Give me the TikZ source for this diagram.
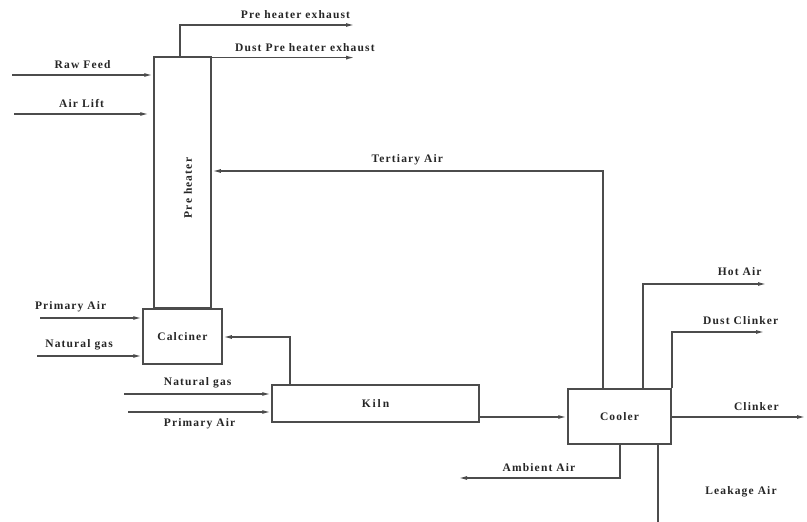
\documentclass[tikz,border=0pt]{standalone}
\usepackage{fontspec}
\setmainfont{Liberation Serif}[LetterSpace=10]
\usetikzlibrary{arrows.meta}

\begin{document}
\begin{tikzpicture}[
    x=1pt, y=-1pt,
    unit/.style={draw=black!70, line width=1.5pt, inner sep=0pt, font=\fontsize{11.5}{13}\selectfont\bfseries},
    arrow/.style={-{Latex[length=9pt,width=4pt]}, draw=black!70, line width=1.5pt},
    pipe/.style={draw=black!70, line width=1.5pt},
    every node/.style={font=\fontsize{11.5}{13}\selectfont\bfseries, text=black!85}
]
\useasboundingbox (0,0) rectangle (807,522);

% Units
\node[unit, minimum width=57pt, minimum height=251pt] (pre) at (182.5, 182.5) {};
\node[rotate=90] (prelabel) at (188, 188) {Pre heater};
\node[unit, minimum width=79pt, minimum height=55pt] (calc) at (182.5, 336.5) {Calciner};
\node[unit, minimum width=207pt, minimum height=37pt] (kiln) at (375.5, 403.5) {K\,i\,l\,n};
\node[unit, minimum width=103pt, minimum height=55pt] (cooler) at (619.5, 416.5) {Cooler};

% Free ends
\coordinate (rawfeed) at (12, 75);
\coordinate (airlift) at (14, 114);
\coordinate (exhaust) at (355, 25);
\coordinate (dustexh) at (355, 57.6);
\coordinate (cprimary) at (40, 318);
\coordinate (cgas) at (37, 356);
\coordinate (kgas) at (124, 394);
\coordinate (kprimary) at (128, 412);
\coordinate (hotair) at (767, 284);
\coordinate (dustclk) at (765, 332);
\coordinate (clinker) at (806, 417);
\coordinate (ambient) at (458, 478);
\coordinate (leakage) at (658, 522);

% Preheater streams
\draw[arrow] (rawfeed) -- (rawfeed -| pre.west) node[midway, above=2pt] {Raw Feed};
\draw[arrow] (airlift) -- ([xshift=-4pt]airlift -| pre.west) node[midway, above=2pt] {Air Lift};
\draw[arrow] ([xshift=-2.5pt]pre.north) |- (exhaust) node[pos=0.83, above=2pt] {Pre heater exhaust};
\draw[arrow] (dustexh -| pre.east) -- (dustexh) node[pos=0.65, above=2pt] {Dust Pre heater exhaust};

% Calciner streams
\draw[arrow] (cprimary) -- (cprimary -| calc.west) node[pos=0.3, above=2pt] {Primary Air};
\draw[arrow] (cgas) -- (cgas -| calc.west) node[pos=0.4, above=2pt] {Natural gas};

% Kiln streams
\draw[arrow] (kgas) -- (kgas -| kiln.west) node[midway, above=2pt] {Natural gas};
\draw[arrow] (kprimary) -- (kprimary -| kiln.west) node[midway, below=2pt] {Primary Air};
\draw[arrow] ([xshift=-85.5pt]kiln.north) |- ([yshift=-0.5pt]calc.east);
\draw[arrow] (clinker -| kiln.east) -- (clinker -| cooler.west);

% Cooler streams
\draw[arrow] ([xshift=-16.5pt]cooler.north) |- ([yshift=11.5pt]pre.east) node[pos=0.75, above=2pt] {Tertiary Air};
\draw[arrow] ([xshift=23.5pt]cooler.north) |- (hotair) node[pos=0.89, above=4pt] {Hot Air};
\draw[arrow] (cooler.north east) |- (dustclk) node[pos=0.87, above=3pt] {Dust Clinker};
\draw[arrow] (clinker -| cooler.east) -- (clinker) node[pos=0.63, above=2pt] {Clinker};
\draw[arrow] ([xshift=0.5pt]cooler.south) |- (ambient) node[pos=0.75, above=2pt] {Ambient Air};
\draw[pipe] (leakage) -- ([xshift=38.5pt]cooler.south);
\node (leaklabel) at (741, 492) {Leakage Air};

\end{tikzpicture}
\end{document}
